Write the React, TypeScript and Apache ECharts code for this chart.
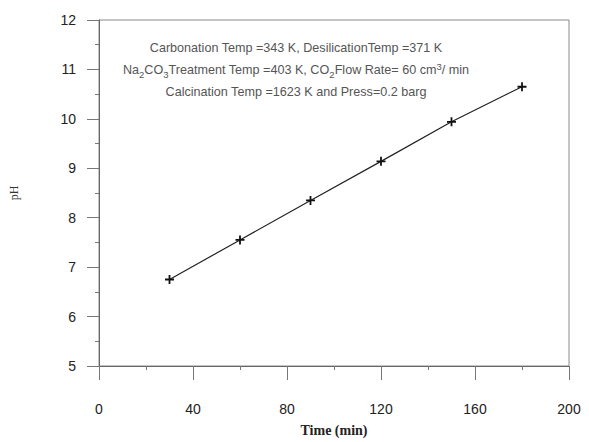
import React, { useEffect, useRef } from "react";
import * as echarts from "echarts";

const timeMin = [30, 60, 90, 120, 150, 180];
const pHValues = [6.75, 7.55, 8.35, 9.14, 9.94, 10.65];
const xTicks = [0, 40, 80, 120, 160, 200];
const yTicks = [5, 6, 7, 8, 9, 10, 11, 12];

const crossPath =
  "path://M3.2,0 H4.8 V3.2 H8 V4.8 H4.8 V8 H3.2 V4.8 H0 V3.2 H3.2 Z";

export default function App() {
  const ref = useRef<HTMLDivElement>(null);
  useEffect(() => {
    if (!ref.current) return;
    const chart = echarts.init(ref.current, null, { renderer: "svg" });
    const sans = "'Liberation Sans', Arial, sans-serif";
    const serif = "'Liberation Serif', 'Times New Roman', serif";
    chart.setOption({
      animation: false,
      backgroundColor: "#ffffff",
      grid: {
        left: 95,
        right: 20,
        top: 20,
        bottom: 73,
        show: true,
        borderColor: "#8a8a8a",
        borderWidth: 1,
        backgroundColor: "transparent",
      },
      title: {
        left: 291,
        top: 32,
        textAlign: "center",
        text:
          "Carbonation Temp =343 K, DesilicationTemp =371 K\n" +
          "Na{sub|2}CO{sub|3}Treatment Temp =403 K, CO{sub|2}Flow Rate= 60 cm{sup|3}/ min\n" +
          "Calcination Temp =1623 K and Press=0.2 barg",
        textStyle: {
          fontFamily: sans,
          fontSize: 12.6,
          fontWeight: "normal",
          color: "#555",
          lineHeight: 22,
          align: "center",
          rich: {
            sub: {
              fontFamily: sans,
              fontSize: 9.5,
              color: "#555",
              padding: [8, 0, 0, 0],
              lineHeight: 22,
            },
            sup: {
              fontFamily: sans,
              fontSize: 9.5,
              color: "#555",
              padding: [0, 0, 8, 0],
              lineHeight: 22,
            },
          },
        },
      },
      xAxis: {
        type: "value",
        min: xTicks[0],
        max: xTicks[xTicks.length - 1],
        interval: 40,
        name: "Time (min)",
        nameLocation: "middle",
        nameGap: 57,
        nameTextStyle: {
          fontFamily: serif,
          fontSize: 14,
          fontWeight: "bold",
          color: "#222",
        },
        axisLine: { show: true, lineStyle: { color: "#666", width: 1 } },
        axisTick: { show: true, length: 14, inside: false, lineStyle: { color: "#777" } },
        minorTick: { show: true, splitNumber: 2, length: 4, lineStyle: { color: "#777" } },
        axisLabel: {
          margin: 36,
          fontFamily: sans,
          fontSize: 14,
          color: "#222",
        },
        splitLine: { show: false },
      },
      yAxis: {
        type: "value",
        min: yTicks[0],
        max: yTicks[yTicks.length - 1],
        interval: 1,
        name: "pH",
        nameLocation: "middle",
        nameGap: 79,
        nameTextStyle: {
          fontFamily: serif,
          fontSize: 12,
          color: "#333",
        },
        axisLine: { show: true, lineStyle: { color: "#666", width: 1 } },
        axisTick: { show: true, length: 12, inside: false, lineStyle: { color: "#777" } },
        minorTick: { show: true, splitNumber: 2, length: 4, lineStyle: { color: "#777" } },
        axisLabel: {
          margin: 23,
          fontFamily: sans,
          fontSize: 14,
          color: "#222",
        },
        splitLine: { show: false },
      },
      series: [
        {
          type: "line",
          data: timeMin.map((t, i) => [t, pHValues[i]]),
          symbol: crossPath,
          symbolSize: 9,
          showSymbol: true,
          itemStyle: { color: "#111" },
          lineStyle: { color: "#222", width: 1.2 },
        },
      ],
    });
    return () => chart.dispose();
  }, []);
  return (
    <div
      ref={ref}
      style={{ position: "fixed", left: 0, top: 0, width: 589, height: 442 }}
    />
  );
}
